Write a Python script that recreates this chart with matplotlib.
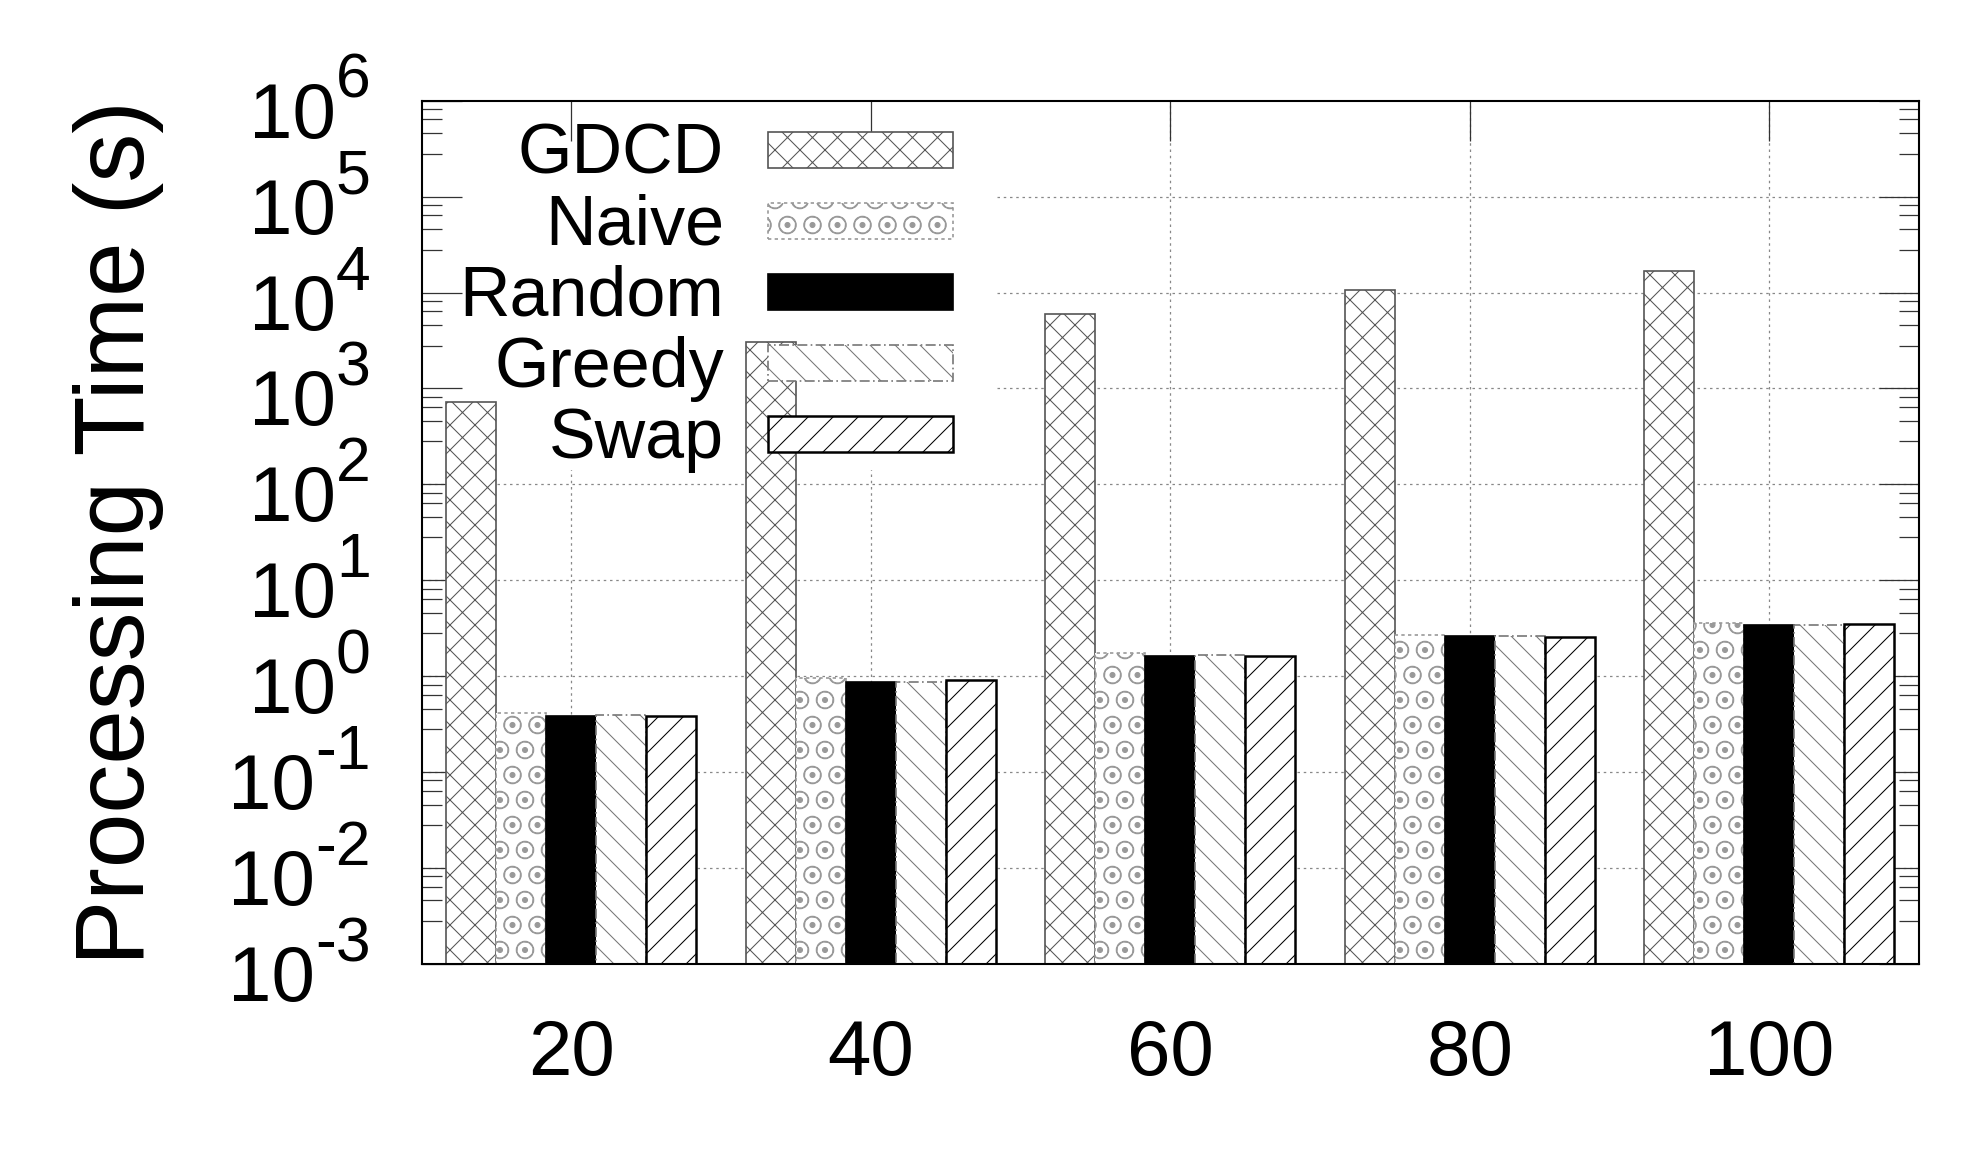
import numpy as np
import matplotlib
matplotlib.use('Agg')
import matplotlib.pyplot as plt
from matplotlib.patches import Rectangle
from matplotlib.ticker import FixedLocator, NullFormatter

plt.rcParams['font.family'] = ['Liberation Sans', 'DejaVu Sans']
plt.rcParams['hatch.linewidth'] = 0.5

# data (seconds, log scale)
sizes = [20, 40, 60, 80, 100]
series_names = ['GDCD', 'Naive', 'Random', 'Greedy', 'Swap']
gdcd_time = [727, 3070, 5940, 10660, 16830]
naive_time = [0.413, 0.953, 1.74, 2.68, 3.57]
random_time = [0.388, 0.88, 1.64, 2.64, 3.46]
greedy_time = [0.394, 0.865, 1.67, 2.64, 3.41]
swap_time = [0.388, 0.923, 1.64, 2.55, 3.52]
y_exponents = list(range(-3, 7))
minor_steps = [2.8, 4.6, 6.4, 8.2]   # gnuplot "mytics 5" on a log axis

all_series = [gdcd_time, naive_time, random_time, greedy_time, swap_time]

# bar styles (gnuplot-ish fill patterns)
styles = [
    dict(facecolor='white', edgecolor='#555555', hatch='xx', linewidth=0.8, linestyle='-'),
    dict(facecolor='white', edgecolor='#999999', hatch='O.', linewidth=0.8, linestyle=(0, (2, 2))),
    dict(facecolor='black', edgecolor='black', hatch=None, linewidth=0.8, linestyle='-'),
    dict(facecolor='white', edgecolor='#777777', hatch='\\\\', linewidth=0.8, linestyle=(0, (6, 2, 1, 2))),
    dict(facecolor='white', edgecolor='black', hatch='//', linewidth=1.2, linestyle='-'),
]

DPI = 150
W, H = 1973, 1156
PX = 72 / DPI  # points per pixel


def fx(px):
    return px / W


def fy(py):
    return 1 - py / H


fig = plt.figure(figsize=(W / DPI, H / DPI), dpi=DPI)
ax = fig.add_axes([fx(421.5), fy(964), 1497.5 / W, 863.3 / H])
ax.set_yscale('log')
ax.set_ylim(1e-3, 1e6)
ax.set_xlim(-0.5, 4.5)

# 막대
x = np.arange(len(sizes))
bw = 1 / 6
for i, (vals, st) in enumerate(zip(all_series, styles)):
    ax.bar(x + (i - 2) * bw, vals, width=bw, zorder=2, **st)

# grid drawn by hand so it can be hidden behind the key
grid_kw = dict(color='#888888', lw=0.6, ls=(0, (2, 3)), zorder=0.3)
for e in y_exponents[1:-1]:
    ax.axhline(10.0 ** e, **grid_kw)
for xi in x:
    ax.axvline(xi, **grid_kw)
ax.add_patch(Rectangle((0, 0.572), 0.383, 0.428, transform=ax.transAxes,
                       facecolor='white', edgecolor='none', zorder=0.4))
ax.set_axisbelow(True)

for sp in ax.spines.values():
    sp.set_linewidth(1.0)

# ticks
ax.set_xticks(x)
ax.set_xticklabels([str(s) for s in sizes], fontsize=37.5)
ax.tick_params(axis='x', which='major', direction='in', length=40 * PX, width=0.6,
               top=True, bottom=True, pad=26, color='#333333')
ax.yaxis.set_major_locator(FixedLocator([10.0 ** e for e in y_exponents]))
ax.yaxis.set_minor_locator(FixedLocator([10.0 ** k * m for k in range(-3, 6) for m in minor_steps]))
ax.yaxis.set_minor_formatter(NullFormatter())
ax.tick_params(axis='y', which='major', direction='in', length=40 * PX, width=0.6,
               left=True, right=True, labelleft=False, color='#333333')
ax.tick_params(axis='y', which='minor', direction='in', length=20 * PX, width=0.6,
               left=True, right=True, labelleft=False, color='#333333')

# y tick labels as 10 + raised exponent, right aligned like gnuplot
ytrans = ax.get_yaxis_transform()
for e in y_exponents:
    sup = ax.annotate(str(e), xy=(0, 10.0 ** e), xycoords=ytrans,
                      xytext=(-51 * PX, 3 * PX), textcoords='offset points',
                      ha='right', va='baseline', fontsize=30, annotation_clip=False)
    ax.annotate('10', xy=(0, 10.0 ** e), xycoords=(sup, ytrans),
                xytext=(0, -37 * PX), textcoords='offset points',
                ha='right', va='baseline', fontsize=37.5, annotation_clip=False)

fig.text(fx(118), (fy(964) + fy(100.7)) / 2, 'Processing Time (s)', rotation=90,
         ha='center', va='center', fontsize=47)

# key: label on the left, sample box on the right
for i, (name, st) in enumerate(zip(series_names, styles)):
    cy = 149.7 + 71.1 * i
    ax.add_patch(Rectangle((fx(767.6), fy(cy + 18)), (952.6 - 767.6) / W, 36 / H,
                           transform=fig.transFigure, zorder=5, clip_on=False, **st))
    fig.text(fx(724), fy(cy + 24), name, ha='right', va='baseline', fontsize=33.6)

fig.savefig('out.png', dpi=DPI)
